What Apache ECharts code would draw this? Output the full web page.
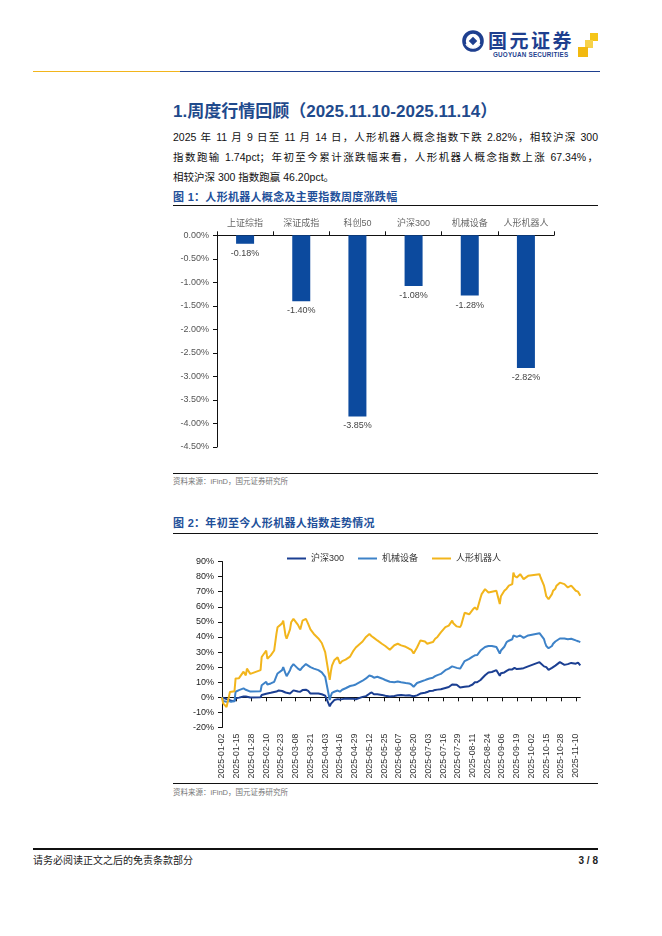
<!DOCTYPE html>
<html><head><meta charset="utf-8">
<script src="https://cdn.jsdelivr.net/npm/echarts@6/dist/echarts.min.js"></script>
<style>
html,body{margin:0;padding:0;background:#fff}
body{width:662px;height:936px;position:relative;overflow:hidden;font-family:"Liberation Sans","Noto Sans CJK SC",sans-serif;color:#111}
.a{position:absolute;white-space:nowrap}
.hl{position:absolute;height:0}
.para{position:absolute;left:173px;width:425px;font-size:10.5px;line-height:20px;color:#111}
.just{text-align:justify;text-align-last:justify}
.ftitle{position:absolute;left:173px;font-size:11px;font-weight:bold;color:#22509A;line-height:16px;letter-spacing:0.3px}
.src{position:absolute;left:173px;font-size:7.5px;color:#777;line-height:12px}
</style></head>
<body>
<!-- header logo -->
<svg class="a" style="left:462px;top:30px" width="22" height="22" viewBox="0 0 22 22">
  <circle cx="11" cy="11" r="9" fill="none" stroke="#1E3F8F" stroke-width="3.6"/>
  <path d="M4 14 A8 8 0 0 0 18 14" fill="none" stroke="#fff" stroke-width="1.4"/>
  <rect x="8" y="8" width="6" height="6" transform="rotate(45 11 11)" fill="#1E3F8F"/>
</svg>
<div class="a" style="left:488px;top:29px;font-size:19px;font-weight:bold;color:#1E3F8F;letter-spacing:2.5px;line-height:22px;font-family:'Noto Sans CJK SC'">国元证券</div>
<div class="a" style="left:493px;top:51px;font-size:6.3px;font-weight:bold;color:#1E3F8F;line-height:8px;letter-spacing:0.2px">GUOYUAN SECURITIES</div>
<div class="a" style="left:590px;top:33px;width:8px;height:8px;background:#F5C518"></div>
<div class="a" style="left:585px;top:40px;width:8px;height:8px;background:#F7D24A"></div>
<div class="a" style="left:578px;top:47px;width:10px;height:10px;background:#F2B90F"></div>
<div class="hl" style="left:33px;top:71px;width:147px;border-top:1.5px solid #F2B51C"></div>
<div class="hl" style="left:180px;top:71px;width:420px;border-top:1.5px solid #1E3F8F"></div>

<!-- section title -->
<div class="a" style="left:173px;top:100px;font-size:17px;font-weight:bold;color:#1F4A8C;line-height:24px">1.周度行情回顾（2025.11.10-2025.11.14）</div>
<div class="para just" style="top:127px">2025 年 11 月 9 日至 11 月 14 日，人形机器人概念指数下跌 2.82%，相较沪深 300</div>
<div class="para just" style="top:147px">指数跑输 1.74pct；年初至今累计涨跌幅来看，人形机器人概念指数上涨 67.34%，</div>
<div class="para" style="top:167px">相较沪深 300 指数跑赢 46.20pct。</div>

<div class="ftitle" style="top:189px">图 1：人形机器人概念及主要指数周度涨跌幅</div>
<div class="hl" style="left:173px;top:204.5px;width:425px;border-top:1.5px solid #111"></div>
<div id="c1" class="a" style="left:160px;top:210px;width:440px;height:260px"></div>
<div class="hl" style="left:173px;top:472.5px;width:425px;border-top:1.5px solid #111"></div>
<div class="src" style="top:476px">资料来源：iFinD，国元证券研究所</div>

<div class="ftitle" style="top:515px">图 2：年初至今人形机器人指数走势情况</div>
<div class="hl" style="left:173px;top:532.5px;width:425px;border-top:1.5px solid #111"></div>
<div id="c2" class="a" style="left:160px;top:540px;width:440px;height:242px"></div>
<div class="hl" style="left:173px;top:782.5px;width:425px;border-top:1.5px solid #111"></div>
<div class="src" style="top:786.5px">资料来源：iFinD，国元证券研究所</div>

<!-- footer -->
<div class="hl" style="left:33px;top:847.5px;width:565px;border-top:2px solid #111"></div>
<div class="a" style="left:33px;top:854px;font-size:10px;line-height:14px;color:#222">请务必阅读正文之后的免责条款部分</div>
<div class="a" style="left:570px;top:854px;width:28px;text-align:right;font-size:10px;font-weight:bold;line-height:14px;color:#222">3 / 8</div>

<script>
// ---------- Figure 1 data ----------
const barCategories = ['上证综指','深证成指','科创50','沪深300','机械设备','人形机器人'];
const barValues = [-0.18,-1.40,-3.85,-1.08,-1.28,-2.82];

// ---------- Figure 2 data (2025, trading days sampled, % change since 2025-01-02) ----------
const lineDates = ['01-02','01-03','01-06','01-08','01-09','01-10','01-13','01-14','01-17','01-21','01-23','01-24','01-27',
 '02-05','02-06','02-07','02-10','02-11','02-14','02-17','02-19','02-20','02-21','02-24','02-25','02-27','02-28',
 '03-03','03-04','03-06','03-07','03-10','03-12','03-14','03-17','03-19','03-21','03-24','03-28','03-31',
 '04-03','04-07','04-08','04-09','04-11','04-14','04-16','04-18','04-21','04-25','04-28','04-30',
 '05-06','05-09','05-12','05-14','05-16','05-19','05-23','05-26','05-30',
 '06-03','06-06','06-09','06-13','06-16','06-18','06-20','06-23','06-26','06-27','06-30',
 '07-02','07-04','07-07','07-09','07-11','07-14','07-18','07-21','07-24','07-25','07-28','07-31',
 '08-01','08-04','08-08','08-11','08-13','08-15','08-18','08-19','08-22','08-25','08-26','08-28',
 '09-01','09-04','09-05','09-08','09-10','09-12','09-15','09-16','09-17','09-19','09-22','09-25','09-26','09-29','09-30',
 '10-09','10-10','10-13','10-14','10-15','10-17','10-20','10-21','10-23','10-24','10-27','10-28','10-31',
 '11-03','11-04','11-06','11-07','11-10','11-11','11-12','11-14'];
const hs300 = [0,-1.2,-1.2,-1.5,-1.4,-2.3,-2.6,-0.6,-0.2,0.5,0.6,1.1,-0.1,
 0,1.5,2.2,2.4,2.2,3.0,3.5,3.8,4.0,4.5,4.2,4.0,3.2,2.6,
 2.6,3.0,4.6,4.2,3.8,3.7,4.8,5.0,4.3,2.5,2.6,2.5,2.0,
 1.1,-6.0,-4.4,-3.5,-1.8,-1.2,-1.5,-1.2,-0.8,-0.9,-1.0,-1.3,
 0.3,0.8,2.4,3.2,2.0,2.0,1.6,1.0,0.5,
 0.9,1.3,1.5,1.2,1.4,1.0,0.7,1.3,2.5,2.6,3.0,
 3.5,4.2,4.4,4.9,5.1,5.3,6.2,6.8,8.5,8.5,8.4,6.5,
 6.3,7.0,7.4,8.5,10.0,10.0,11.5,11.5,14.6,16.5,16.2,16.8,
 18.0,14.3,16.0,16.5,17.5,18.4,18.5,19.0,19.5,18.7,19.0,19.3,19.1,20.5,21.5,
 23.3,22.5,20.5,19.3,20.0,18.2,19.5,20.5,21.0,22.0,23.3,24.2,21.5,
 22.0,21.5,22.8,22.5,22.3,22.0,23.0,21.14];
const machinery = [0,-2.5,-3,-2.5,-2.2,-3,-2.5,3.7,4.8,5.9,5,4.5,3.8,
 4,8,9.2,10.3,8.5,9.2,10.3,14,15.8,15,18,20,15.8,14,
 18,20,22,21.5,19,18,20,22,21,20,19,18,16.5,
 13.6,-1.8,1,3,3.7,4.5,3.7,5,6,7.5,8,8.5,
 11,12.5,14.5,14,13,13.6,12.5,11.5,10.3,
 10,10.5,10,9.5,9.2,8.5,7,9.5,10.3,11,11.4,
 12,12.5,13,14,14.7,15.5,18,19,20.5,20,19.5,19,
 20,24,25.5,27,27.8,28,31,31,33.3,34,34.5,34,
 33.3,29,31,33.5,36.6,37.5,38.5,41,40,40,41,39.4,40,41,41.5,
 42.5,41.5,38.5,36,34,32.5,34,35.5,37,37.7,39,39.4,39,
 38.5,37.5,38.8,38.5,37.7,37.5,37.2,36.6];
const humanoid = [0,-4,-6.4,0,3.5,4,4,12.5,12.7,17,14.5,19,15.5,
 18,26.7,27.8,31,25.6,27.8,31,42,46.5,47,49,50.8,41,38.8,
 45,49.7,52,51,48,45,50.8,52,48.7,45,42,39,36,
 30,11.5,17,21,24.5,26.5,22.3,24,25,27,31,33,
 37,40,42,40.5,39.4,37.7,35.5,34,31.5,
 34.5,35.5,34.4,33.5,32.2,31.5,29,33,37.7,38.5,37,
 35.5,36,36.6,38.8,40,43,46.5,47.5,50.8,49,47,46.5,
 48,56,55,58,59.6,58,66,68.4,71.7,69.5,70.5,70,
 70.6,61.8,67,70.6,72,74,75,82.7,80.5,79.4,81.6,78.3,79,80.5,81,
 81.6,79.4,74,72.8,67,65,68.4,70.6,72,74,76,75.5,75,
 72.8,71.7,74,73,70.6,71,70,67.34];
const seriesNames = ['沪深300','机械设备','人形机器人'];

// calendar-day axis (Excel-style date axis), labels every 13 days
const allDays = [];
for (let t = Date.UTC(2025,0,2); t <= Date.UTC(2025,10,14); t += 86400000) {
  allDays.push(new Date(t).toISOString().slice(0,10));
}
function onCalendar(vals){
  const m = {};
  lineDates.forEach((d,i)=>{ m['2025-'+d] = vals[i]; });
  return allDays.map(d => (d in m) ? m[d] : null);
}

const CJK = '"Liberation Sans","Noto Sans CJK SC",sans-serif';

const c1 = echarts.init(document.getElementById('c1'), null, {renderer:'canvas'});
c1.setOption({
  animation:false,
  grid:{left:57, top:25.3, width:337, height:211.7, outerBoundsMode:'none', containLabel:false},
  xAxis:{type:'category', position:'top', data:barCategories,
    axisLine:{lineStyle:{color:'#111', width:1}},
    axisTick:{show:true, length:4, lineStyle:{color:'#111'}},
    axisLabel:{interval:0, margin:7, fontSize:9, color:'#666', fontFamily:CJK}},
  yAxis:{type:'value', min:-4.5, max:0, interval:0.5,
    axisLine:{show:true, lineStyle:{color:'#111', width:1}},
    axisTick:{show:true, length:4, lineStyle:{color:'#111'}},
    splitLine:{show:false},
    axisLabel:{margin:8, fontSize:9, color:'#555', fontFamily:CJK, formatter:v=>v.toFixed(2)+'%'}},
  series:[{type:'bar', data:barValues, barWidth:18, itemStyle:{color:'#0C4A9E'},
    label:{show:true, position:'bottom', distance:5, fontSize:9, color:'#444', fontFamily:CJK,
      formatter:p=>p.value.toFixed(2)+'%'}}]
});

const colors = ['#1B3F92','#3D82C8','#F2B51C'];
const c2 = echarts.init(document.getElementById('c2'), null, {renderer:'canvas'});
c2.setOption({
  animation:false,
  color:colors,
  legend:{left:122, top:9, icon:'rect', itemWidth:19, itemHeight:2, itemGap:14,
    textStyle:{fontSize:9, color:'#333', fontFamily:CJK}, data:seriesNames},
  grid:{left:62, top:21.5, width:358.3, height:166, outerBoundsMode:'none', containLabel:false},
  xAxis:{type:'category', data:allDays, boundaryGap:false,
    axisLine:{onZero:true, lineStyle:{color:'#111', width:1}},
    axisTick:{show:true, interval:12, length:4, lineStyle:{color:'#111'}},
    axisLabel:{interval:12, rotate:90, margin:6, fontSize:8.8, color:'#333', fontFamily:CJK}},
  yAxis:{type:'value', min:-20, max:90, interval:10,
    axisLine:{show:true, lineStyle:{color:'#111', width:1}},
    axisTick:{show:true, length:4, lineStyle:{color:'#111'}},
    splitLine:{show:false},
    axisLabel:{margin:8, fontSize:9, color:'#222', fontFamily:CJK, formatter:'{value}%'}},
  series:[
    {name:seriesNames[0], type:'line', data:onCalendar(hs300), connectNulls:true, symbol:'none', lineStyle:{width:2}},
    {name:seriesNames[1], type:'line', data:onCalendar(machinery), connectNulls:true, symbol:'none', lineStyle:{width:2}},
    {name:seriesNames[2], type:'line', data:onCalendar(humanoid), connectNulls:true, symbol:'none', lineStyle:{width:2}}
  ]
});
</script>
</body></html>
